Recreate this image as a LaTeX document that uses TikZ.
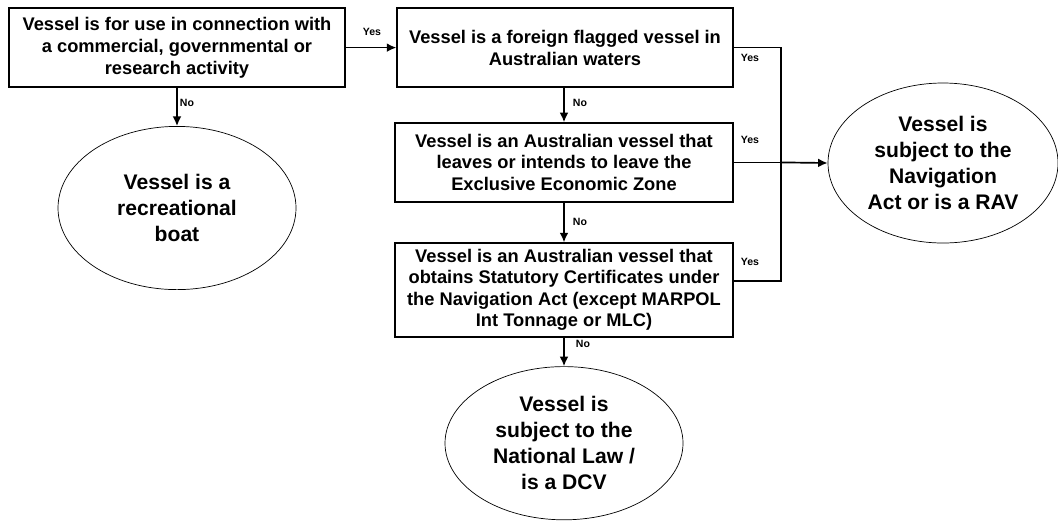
\documentclass[tikz,border=0pt]{standalone}
\usepackage{fontspec}
\setmainfont{Liberation Sans}
\usetikzlibrary{arrows.meta,positioning,calc,shapes.geometric}
\tikzset{
  checkbox/.style={draw=black,line width=0.9pt,align=center,inner sep=0pt,
    minimum width=8.4cm,minimum height=1.975cm,font=\fontsize{13}{15.6}\selectfont\bfseries},
  outcome/.style={draw=black,ellipse,line width=0.5pt,align=center,inner sep=0pt,
    font=\fontsize{15}{18.4}\selectfont\bfseries},
  flowarrow/.style={-{Latex[length=2.4mm,width=2.2mm]},line width=1.2pt},
  flowline/.style={line width=0.9pt},
  answer/.style={font=\fontsize{7.5}{8}\selectfont\bfseries,inner sep=0pt}
}

\begin{document}
\begin{tikzpicture}[x=1cm,y=1cm]
  \useasboundingbox (0,0) rectangle (26.45,-13.15);
  % questions
  \node[checkbox] (use) at (4.425,-1.19)
    {Vessel is for use in connection with\\a commercial, governmental or\\research activity};
  \node[checkbox] (foreign) at (14.125,-1.19)
    {Vessel is a foreign flagged vessel in\\Australian waters};
  \node[checkbox,minimum width=8.45cm] (eez) at (14.1,-4.06)
    {Vessel is an Australian vessel that\\leaves or intends to leave the\\Exclusive Economic Zone};
  \node[checkbox,minimum width=8.45cm,minimum height=2.35cm,
    font=\fontsize{13}{15.3}\selectfont\bfseries] (cert) at (14.1,-7.25)
    {Vessel is an Australian vessel that\\obtains Statutory Certificates under\\the Navigation Act (except MARPOL\\Int Tonnage or MLC)};
  % outcomes
  \node[outcome,minimum width=5.95cm,minimum height=4.08cm] (rec) at (4.425,-5.2)
    {Vessel is a\\recreational\\boat};
  \node[outcome,minimum width=5.75cm,minimum height=4.0cm] (nav) at (23.575,-4.075)
    {Vessel is\\subject to the\\Navigation\\Act or is a RAV};
  \node[outcome,minimum width=5.95cm,minimum height=3.83cm] (dcv) at (14.1,-11.08)
    {Vessel is\\subject to the\\National Law /\\is a DCV};
  \coordinate (join) at (19.525,-4.06);
  % connectors
  \draw[flowarrow] (use) -- (foreign);
  \draw[flowarrow] (use) -- (rec);
  \draw[flowarrow] (foreign.south -| eez.north) -- (eez.north);
  \draw[flowarrow] (eez.south) -- (cert.north);
  \draw[flowarrow] (cert.south) -- (dcv.north);
  \draw[flowline] (foreign.east) -| (join) |- ([yshift=0.225cm]cert.east);
  \draw[flowline] (eez.east) -- (join);
  \draw[flowarrow] (join) -- (nav.west);
  % answers
  \node[answer] (y1) at (9.3,-0.8) {Yes};
  \node[answer] (y2) at (18.75,-1.45) {Yes};
  \node[answer] (y3) at (18.75,-3.5) {Yes};
  \node[answer] (y4) at (18.75,-6.55) {Yes};
  \node[answer] (n1) at (4.675,-2.575) {No};
  \node[answer] (n2) at (14.5,-2.575) {No};
  \node[answer] (n3) at (14.5,-5.55) {No};
  \node[answer] (n4) at (14.575,-8.6) {No};
\end{tikzpicture}
\end{document}
